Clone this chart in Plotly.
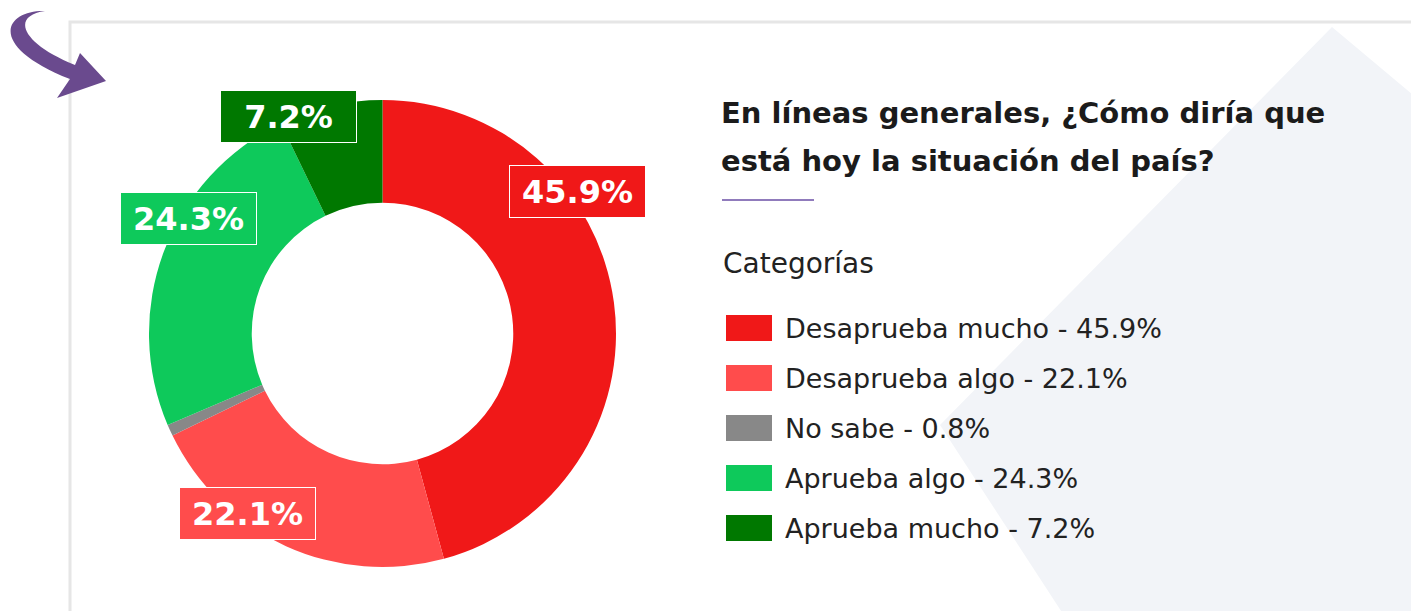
import plotly.graph_objects as go

W, H = 1419, 611
OFF = 8  # page body margin

categories = ["Desaprueba mucho", "Desaprueba algo", "No sabe", "Aprueba algo", "Aprueba mucho"]
values = [45.9, 22.1, 0.8, 24.3, 7.2]
colors = ["#f01818", "#ff4c4c", "#888888", "#0ec95b", "#007800"]

title_lines = ["En líneas generales, ¿Cómo diría que", "está hoy la situación del país?"]
legend_title = "Categorías"

# label box centers in pixels (None = no label)
label_pos = [(577, 191), (247, 513), None, (188, 218), (288, 117)]

FONT = "DejaVu Sans"


def px(x):
    return (x - OFF) / W


def py(y):
    return 1 - (y - OFF) / H


def pt(x, y):
    return f"{px(x)},{py(y)}"


fig = go.Figure()

fig.add_trace(
    go.Pie(
        labels=categories,
        values=values,
        hole=0.56,
        sort=False,
        direction="clockwise",
        rotation=0,
        marker=dict(colors=colors, line=dict(width=0)),
        textinfo="none",
        hoverinfo="label+percent",
        domain=dict(x=[px(149), px(616)], y=[py(567), py(100)]),
        showlegend=False,
    )
)

shapes = []

# light background polygon at right
poly = [(1332, 27), (1413, 95), (1413, 640), (1080, 640), (940, 425)]
d = "M " + " L ".join(pt(x, y) for x, y in poly) + " Z"
shapes.append(dict(type="path", path=d, xref="paper", yref="paper",
                   fillcolor="#f2f4f8", line=dict(width=0), layer="below"))

# card border
shapes.append(dict(type="rect", xref="paper", yref="paper",
                   x0=px(70), x1=px(1413), y0=py(660), y1=py(22),
                   line=dict(color="#e6e6e6", width=3), layer="below"))

# purple arrow
arrow = (
    f"M {pt(45, 11)} C {pt(4, 10)} {pt(-14, 46)} {pt(70, 79)} "
    f"L {pt(57, 98)} L {pt(106, 81)} L {pt(80, 53)} L {pt(75, 65)} "
    f"C {pt(22, 44)} {pt(10, 16)} {pt(45, 11)} Z"
)
shapes.append(dict(type="path", path=arrow, xref="paper", yref="paper",
                   fillcolor="#6a4a8e", line=dict(width=0)))

# underline under title
shapes.append(dict(type="line", xref="paper", yref="paper",
                   x0=px(722), x1=px(814), y0=py(200), y1=py(200),
                   line=dict(color="#6b4fa6", width=1.5)))

annotations = []

# label boxes on the donut
for cat, val, col, pos in zip(categories, values, colors, label_pos):
    if pos is None:
        continue
    annotations.append(dict(
        x=px(pos[0]), y=py(pos[1]), xref="paper", yref="paper",
        text=f"<b>{val}%</b>", showarrow=False,
        xanchor="center", yanchor="middle",
        width=135, height=51, bgcolor=col, bordercolor="white",
        borderwidth=1, borderpad=0,
        font=dict(family=FONT, size=32, color="white"),
    ))

# title
for i, line in enumerate(title_lines):
    annotations.append(dict(
        x=px(719), y=py(113 + 48 * i), xref="paper", yref="paper",
        text=f"<b>{line}</b>", showarrow=False,
        xanchor="left", yanchor="middle",
        font=dict(family=FONT, size=29, color="#1b1b1b"),
    ))

annotations.append(dict(
    x=px(721), y=py(263), xref="paper", yref="paper",
    text=legend_title, showarrow=False, xanchor="left", yanchor="middle",
    font=dict(family=FONT, size=28, color="#222222"),
))

# custom legend
for i, (cat, val, col) in enumerate(zip(categories, values, colors)):
    yc = 328 + 50 * i
    shapes.append(dict(type="rect", xref="paper", yref="paper",
                       x0=px(726), x1=px(772), y0=py(yc + 13), y1=py(yc - 13),
                       fillcolor=col, line=dict(width=0)))
    annotations.append(dict(
        x=px(783), y=py(yc), xref="paper", yref="paper",
        text=f"{cat} - {val}%", showarrow=False,
        xanchor="left", yanchor="middle",
        font=dict(family=FONT, size=27, color="#222222"),
    ))

fig.update_layout(
    width=W,
    height=H,
    margin=dict(l=0, r=0, t=0, b=0),
    paper_bgcolor="white",
    plot_bgcolor="white",
    shapes=shapes,
    annotations=annotations,
    font=dict(family=FONT),
)

fig.write_html("out.html")
